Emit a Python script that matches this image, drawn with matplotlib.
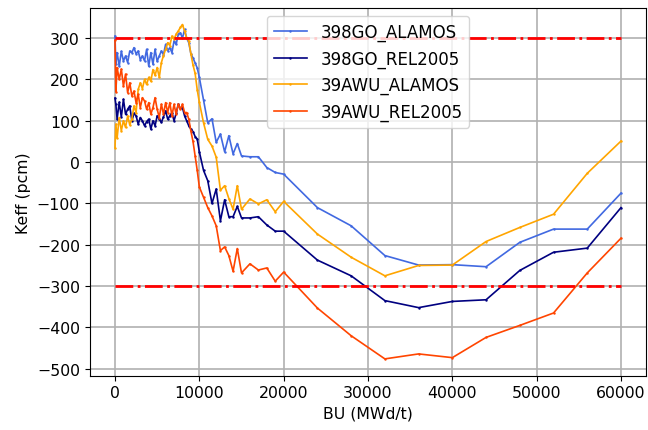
import numpy as np
import matplotlib
matplotlib.use("Agg")
import matplotlib.pyplot as plt

# burnup steps (MWd/t)
bu = [0, 100, 250, 500, 750, 1000, 1250, 1500, 1750, 2000, 2250, 2500, 2750,
      3000, 3250, 3500, 3750, 4000, 4250, 4500, 4750, 5000, 5250, 5500, 5750,
      6000, 6250, 6500, 6750, 7000, 7250, 7500, 7750, 8000, 8250, 8500, 8750,
      9000, 9250, 9500, 9750, 10000,
      10500, 11000, 11500, 12000, 12500, 13000, 13500, 14000, 14500, 15000,
      16000, 17000, 18000, 19000, 20000,
      24000, 28000, 32000, 36000, 40000, 44000, 48000, 52000, 56000, 60000]

# reactivity differences (pcm)
go_alamos = [305, 237, 265, 232, 268, 245, 257, 241, 269, 265, 277, 262, 269,
             248, 257, 245, 273, 232, 265, 237, 273, 244, 257, 269, 260,
             285, 270, 277, 265, 293, 285, 309, 313, 300, 321, 300, 289,
             262, 252, 240, 228, 205,
             150, 95, 105, 48, 68, 25, 64, 20, 45, 15,
             13, 13, -13, -25, -29,
             -110, -154, -226, -249, -248, -253, -194, -162, -162, -75]
go_rel2005 = [155, 140, 104, 145, 109, 152, 116, 128, 136, 100, 118, 112, 92,
              108, 100, 88, 98, 104, 80, 100, 88, 112, 104, 96, 110,
              124, 104, 112, 120, 100, 118, 140, 130, 132, 112, 100, 88,
              80, 74, 62, 56, 25,
              -20, -45, -100, -65, -142, -91, -132, -132, -107, -135,
              -135, -132, -152, -167, -167,
              -237, -275, -335, -352, -337, -333, -262, -218, -208, -110]
awu_alamos = [35, 92, 58, 108, 76, 100, 84, 112, 90, 105, 136, 120, 176,
              192, 178, 200, 188, 205, 196, 224, 210, 229, 205, 241, 258,
              273, 289, 282, 305, 297, 310, 317, 326, 333, 317, 300, 293,
              262, 235, 215, 175, 145,
              95, 55, 39, 12, -68, -57, -88, -114, -57, -114,
              -89, -101, -91, -120, -95,
              -174, -230, -275, -250, -249, -192, -158, -126, -27, 51]
awu_rel2005 = [295, 170, 229, 200, 225, 184, 213, 168, 192, 160, 172, 144, 164,
               132, 156, 148, 128, 144, 116, 132, 156, 128, 108, 140, 116,
               144, 120, 144, 112, 140, 116, 140, 128, 140, 120, 120, 104,
               75, 50, 15, -20, -60,
               -85, -110, -130, -154, -214, -205, -226, -264, -209, -268,
               -246, -261, -256, -288, -266,
               -353, -420, -476, -464, -473, -424, -395, -365, -268, -184]

limit = 300

plt.rcParams['font.size'] = 11.3
fig = plt.figure(figsize=(6.48, 4.31), dpi=100)
ax = fig.add_axes([89.7 / 648, 1 - 376.6 / 431, (646.3 - 89.7) / 648, (376.6 - 8.8) / 431])

ax.plot(bu, go_alamos, color='royalblue', marker='.', ms=1.5, lw=1.2, label='398GO_ALAMOS')
ax.plot(bu, go_rel2005, color='navy', marker='.', ms=1.5, lw=1.2, label='398GO_REL2005')
ax.plot(bu, awu_alamos, color='orange', marker='.', ms=1.5, lw=1.2, label='39AWU_ALAMOS')
ax.plot(bu, awu_rel2005, color='orangered', marker='.', ms=1.5, lw=1.2, label='39AWU_REL2005')

ax.plot([bu[0], bu[-1]], [limit, limit], 'r-.', lw=2)
ax.plot([bu[0], bu[-1]], [-limit, -limit], 'r-.', lw=2)

ax.set_yticks(np.arange(-500, 301, 100))
ax.grid(True, color='#b0b0b0', lw=1.2)
ax.set_xlabel('BU (MWd/t)')
ax.set_ylabel('Keff (pcm)')
ax.legend(loc='upper center', fontsize=12)

fig.savefig('out.png', dpi=100)
